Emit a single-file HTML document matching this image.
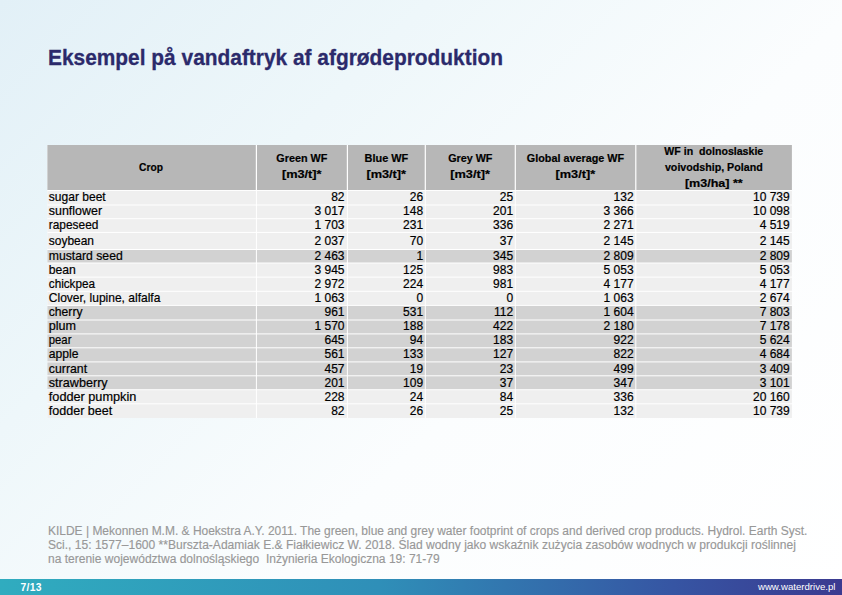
<!DOCTYPE html>
<html><head><meta charset="utf-8">
<style>
html,body{margin:0;padding:0;}
body{width:842px;height:595px;overflow:hidden;position:relative;font-family:"Liberation Sans",sans-serif;
background:linear-gradient(135deg,#e2f0f7 0%,#eef7fa 30%,#fbfdfe 60%,#ffffff 100%);}
#title{position:absolute;left:47.6px;top:44.2px;font-size:22.6px;transform:scaleX(0.9245);-webkit-text-stroke:0.3px #2b2a6b;font-weight:bold;color:#2b2a6b;white-space:nowrap;line-height:28px;transform-origin:0 0;}
#tbl text{font-family:"Liberation Sans",sans-serif;fill:#000;stroke:#000;stroke-width:0.2px;}
#foot{position:absolute;left:48px;top:524px;font-size:12px;line-height:14px;color:#989898;-webkit-text-stroke:0.15px #989898;white-space:nowrap;}
#foot div{transform-origin:0 0;height:14px;}
#bar{position:absolute;left:0;top:578.5px;width:842px;height:17px;background:linear-gradient(90deg,#30acbf 0%,#2f8fb8 45%,#3655a3 80%,#3b3a90 100%);}
#pg{position:absolute;left:20.5px;top:581.6px;font-size:10.3px;letter-spacing:0.3px;font-weight:bold;color:#fff;line-height:12px;}
#url{position:absolute;right:6.5px;top:581px;font-size:9.65px;color:#fff;line-height:12px;}
</style></head><body>
<div id="title">Eksempel på vandaftryk af afgrødeproduktion</div>
<svg id="tbl" width="842" height="595" viewBox="0 0 842 595" style="position:absolute;left:0;top:0">
<rect x="47.4" y="145.0" width="744.5" height="273.0" fill="#ffffff"/>
<rect x="47.40" y="145.0" width="208.40" height="45.00" fill="#b7b7b7"/>
<rect x="257.00" y="145.0" width="89.80" height="45.00" fill="#b7b7b7"/>
<rect x="348.00" y="145.0" width="76.70" height="45.00" fill="#b7b7b7"/>
<rect x="425.90" y="145.0" width="88.80" height="45.00" fill="#b7b7b7"/>
<rect x="515.90" y="145.0" width="119.30" height="45.00" fill="#b7b7b7"/>
<rect x="636.40" y="145.0" width="155.50" height="45.00" fill="#b7b7b7"/>
<rect x="47.40" y="190.90" width="208.50" height="13.60" fill="#efefef"/>
<rect x="256.90" y="190.90" width="90.00" height="13.60" fill="#efefef"/>
<rect x="347.90" y="190.90" width="76.90" height="13.60" fill="#efefef"/>
<rect x="425.80" y="190.90" width="89.00" height="13.60" fill="#efefef"/>
<rect x="515.80" y="190.90" width="119.50" height="13.60" fill="#efefef"/>
<rect x="636.30" y="190.90" width="155.60" height="13.60" fill="#efefef"/>
<rect x="47.40" y="205.50" width="208.50" height="12.70" fill="#efefef"/>
<rect x="256.90" y="205.50" width="90.00" height="12.70" fill="#efefef"/>
<rect x="347.90" y="205.50" width="76.90" height="12.70" fill="#efefef"/>
<rect x="425.80" y="205.50" width="89.00" height="12.70" fill="#efefef"/>
<rect x="515.80" y="205.50" width="119.50" height="12.70" fill="#efefef"/>
<rect x="636.30" y="205.50" width="155.60" height="12.70" fill="#efefef"/>
<rect x="47.40" y="219.20" width="208.50" height="12.70" fill="#efefef"/>
<rect x="256.90" y="219.20" width="90.00" height="12.70" fill="#efefef"/>
<rect x="347.90" y="219.20" width="76.90" height="12.70" fill="#efefef"/>
<rect x="425.80" y="219.20" width="89.00" height="12.70" fill="#efefef"/>
<rect x="515.80" y="219.20" width="119.50" height="12.70" fill="#efefef"/>
<rect x="636.30" y="219.20" width="155.60" height="12.70" fill="#efefef"/>
<rect x="47.40" y="232.90" width="208.50" height="16.10" fill="#efefef"/>
<rect x="256.90" y="232.90" width="90.00" height="16.10" fill="#efefef"/>
<rect x="347.90" y="232.90" width="76.90" height="16.10" fill="#efefef"/>
<rect x="425.80" y="232.90" width="89.00" height="16.10" fill="#efefef"/>
<rect x="515.80" y="232.90" width="119.50" height="16.10" fill="#efefef"/>
<rect x="636.30" y="232.90" width="155.60" height="16.10" fill="#efefef"/>
<rect x="47.40" y="250.00" width="208.50" height="12.50" fill="#d2d2d2"/>
<rect x="256.90" y="250.00" width="90.00" height="12.50" fill="#d2d2d2"/>
<rect x="347.90" y="250.00" width="76.90" height="12.50" fill="#d2d2d2"/>
<rect x="425.80" y="250.00" width="89.00" height="12.50" fill="#d2d2d2"/>
<rect x="515.80" y="250.00" width="119.50" height="12.50" fill="#d2d2d2"/>
<rect x="636.30" y="250.00" width="155.60" height="12.50" fill="#d2d2d2"/>
<rect x="47.40" y="263.50" width="208.50" height="13.10" fill="#efefef"/>
<rect x="256.90" y="263.50" width="90.00" height="13.10" fill="#efefef"/>
<rect x="347.90" y="263.50" width="76.90" height="13.10" fill="#efefef"/>
<rect x="425.80" y="263.50" width="89.00" height="13.10" fill="#efefef"/>
<rect x="515.80" y="263.50" width="119.50" height="13.10" fill="#efefef"/>
<rect x="636.30" y="263.50" width="155.60" height="13.10" fill="#efefef"/>
<rect x="47.40" y="277.60" width="208.50" height="13.20" fill="#efefef"/>
<rect x="256.90" y="277.60" width="90.00" height="13.20" fill="#efefef"/>
<rect x="347.90" y="277.60" width="76.90" height="13.20" fill="#efefef"/>
<rect x="425.80" y="277.60" width="89.00" height="13.20" fill="#efefef"/>
<rect x="515.80" y="277.60" width="119.50" height="13.20" fill="#efefef"/>
<rect x="636.30" y="277.60" width="155.60" height="13.20" fill="#efefef"/>
<rect x="47.40" y="291.80" width="208.50" height="13.10" fill="#efefef"/>
<rect x="256.90" y="291.80" width="90.00" height="13.10" fill="#efefef"/>
<rect x="347.90" y="291.80" width="76.90" height="13.10" fill="#efefef"/>
<rect x="425.80" y="291.80" width="89.00" height="13.10" fill="#efefef"/>
<rect x="515.80" y="291.80" width="119.50" height="13.10" fill="#efefef"/>
<rect x="636.30" y="291.80" width="155.60" height="13.10" fill="#efefef"/>
<rect x="47.40" y="305.90" width="208.50" height="13.60" fill="#d2d2d2"/>
<rect x="256.90" y="305.90" width="90.00" height="13.60" fill="#d2d2d2"/>
<rect x="347.90" y="305.90" width="76.90" height="13.60" fill="#d2d2d2"/>
<rect x="425.80" y="305.90" width="89.00" height="13.60" fill="#d2d2d2"/>
<rect x="515.80" y="305.90" width="119.50" height="13.60" fill="#d2d2d2"/>
<rect x="636.30" y="305.90" width="155.60" height="13.60" fill="#d2d2d2"/>
<rect x="47.40" y="320.50" width="208.50" height="12.90" fill="#d2d2d2"/>
<rect x="256.90" y="320.50" width="90.00" height="12.90" fill="#d2d2d2"/>
<rect x="347.90" y="320.50" width="76.90" height="12.90" fill="#d2d2d2"/>
<rect x="425.80" y="320.50" width="89.00" height="12.90" fill="#d2d2d2"/>
<rect x="515.80" y="320.50" width="119.50" height="12.90" fill="#d2d2d2"/>
<rect x="636.30" y="320.50" width="155.60" height="12.90" fill="#d2d2d2"/>
<rect x="47.40" y="334.40" width="208.50" height="12.90" fill="#d2d2d2"/>
<rect x="256.90" y="334.40" width="90.00" height="12.90" fill="#d2d2d2"/>
<rect x="347.90" y="334.40" width="76.90" height="12.90" fill="#d2d2d2"/>
<rect x="425.80" y="334.40" width="89.00" height="12.90" fill="#d2d2d2"/>
<rect x="515.80" y="334.40" width="119.50" height="12.90" fill="#d2d2d2"/>
<rect x="636.30" y="334.40" width="155.60" height="12.90" fill="#d2d2d2"/>
<rect x="47.40" y="348.30" width="208.50" height="13.10" fill="#d2d2d2"/>
<rect x="256.90" y="348.30" width="90.00" height="13.10" fill="#d2d2d2"/>
<rect x="347.90" y="348.30" width="76.90" height="13.10" fill="#d2d2d2"/>
<rect x="425.80" y="348.30" width="89.00" height="13.10" fill="#d2d2d2"/>
<rect x="515.80" y="348.30" width="119.50" height="13.10" fill="#d2d2d2"/>
<rect x="636.30" y="348.30" width="155.60" height="13.10" fill="#d2d2d2"/>
<rect x="47.40" y="362.40" width="208.50" height="12.90" fill="#d2d2d2"/>
<rect x="256.90" y="362.40" width="90.00" height="12.90" fill="#d2d2d2"/>
<rect x="347.90" y="362.40" width="76.90" height="12.90" fill="#d2d2d2"/>
<rect x="425.80" y="362.40" width="89.00" height="12.90" fill="#d2d2d2"/>
<rect x="515.80" y="362.40" width="119.50" height="12.90" fill="#d2d2d2"/>
<rect x="636.30" y="362.40" width="155.60" height="12.90" fill="#d2d2d2"/>
<rect x="47.40" y="376.30" width="208.50" height="12.90" fill="#d2d2d2"/>
<rect x="256.90" y="376.30" width="90.00" height="12.90" fill="#d2d2d2"/>
<rect x="347.90" y="376.30" width="76.90" height="12.90" fill="#d2d2d2"/>
<rect x="425.80" y="376.30" width="89.00" height="12.90" fill="#d2d2d2"/>
<rect x="515.80" y="376.30" width="119.50" height="12.90" fill="#d2d2d2"/>
<rect x="636.30" y="376.30" width="155.60" height="12.90" fill="#d2d2d2"/>
<rect x="47.40" y="390.20" width="208.50" height="13.10" fill="#efefef"/>
<rect x="256.90" y="390.20" width="90.00" height="13.10" fill="#efefef"/>
<rect x="347.90" y="390.20" width="76.90" height="13.10" fill="#efefef"/>
<rect x="425.80" y="390.20" width="89.00" height="13.10" fill="#efefef"/>
<rect x="515.80" y="390.20" width="119.50" height="13.10" fill="#efefef"/>
<rect x="636.30" y="390.20" width="155.60" height="13.10" fill="#efefef"/>
<rect x="47.40" y="404.30" width="208.50" height="13.70" fill="#efefef"/>
<rect x="256.90" y="404.30" width="90.00" height="13.70" fill="#efefef"/>
<rect x="347.90" y="404.30" width="76.90" height="13.70" fill="#efefef"/>
<rect x="425.80" y="404.30" width="89.00" height="13.70" fill="#efefef"/>
<rect x="515.80" y="404.30" width="119.50" height="13.70" fill="#efefef"/>
<rect x="636.30" y="404.30" width="155.60" height="13.70" fill="#efefef"/>
<text transform="translate(151.0,171.3) scale(0.8900,1)" text-anchor="middle" font-size="11.5" font-weight="bold" xml:space="preserve">Crop</text>
<text transform="translate(301.9,162.1) scale(0.9407,1)" text-anchor="middle" font-size="11.5" font-weight="bold" xml:space="preserve">Green WF</text>
<text transform="translate(301.7,178.1) scale(1.1101,1)" text-anchor="middle" font-size="11.5" font-weight="bold" xml:space="preserve">[m3/t]*</text>
<text transform="translate(386.4,162.1) scale(0.9503,1)" text-anchor="middle" font-size="11.5" font-weight="bold" xml:space="preserve">Blue WF</text>
<text transform="translate(386.2,178.1) scale(1.1101,1)" text-anchor="middle" font-size="11.5" font-weight="bold" xml:space="preserve">[m3/t]*</text>
<text transform="translate(470.3,162.1) scale(0.9379,1)" text-anchor="middle" font-size="11.5" font-weight="bold" xml:space="preserve">Grey WF</text>
<text transform="translate(470.1,178.1) scale(1.1101,1)" text-anchor="middle" font-size="11.5" font-weight="bold" xml:space="preserve">[m3/t]*</text>
<text transform="translate(575.5,162.1) scale(0.9407,1)" text-anchor="middle" font-size="11.5" font-weight="bold" xml:space="preserve">Global average WF</text>
<text transform="translate(575.3,178.1) scale(1.1101,1)" text-anchor="middle" font-size="11.5" font-weight="bold" xml:space="preserve">[m3/t]*</text>
<text transform="translate(713.8,154.7) scale(0.9225,1)" text-anchor="middle" font-size="11.5" font-weight="bold" xml:space="preserve">WF in  dolnoslaskie</text>
<text transform="translate(713.8,170.8) scale(0.9283,1)" text-anchor="middle" font-size="11.5" font-weight="bold" xml:space="preserve">voivodship, Poland</text>
<text transform="translate(713.8,186.5) scale(1.0910,1)" text-anchor="middle" font-size="11.5" font-weight="bold" xml:space="preserve">[m3/ha] **</text>
<text transform="translate(48.8,200.9) scale(1.0035,1.0)" font-size="12">sugar beet</text>
<text transform="translate(344.5,200.9) scale(1,1.0)" text-anchor="end" font-size="12">82</text>
<text transform="translate(423.1,200.9) scale(1,1.0)" text-anchor="end" font-size="12">26</text>
<text transform="translate(513.1,200.9) scale(1,1.0)" text-anchor="end" font-size="12">25</text>
<text transform="translate(633.6,200.9) scale(1,1.0)" text-anchor="end" font-size="12">132</text>
<text transform="translate(789.7,200.9) scale(1,1.0)" text-anchor="end" font-size="12">10 739</text>
<text transform="translate(48.8,215.4) scale(1.0365,1.0)" font-size="12">sunflower</text>
<text transform="translate(344.5,215.4) scale(1,1.0)" text-anchor="end" font-size="12">3 017</text>
<text transform="translate(423.1,215.4) scale(1,1.0)" text-anchor="end" font-size="12">148</text>
<text transform="translate(513.1,215.4) scale(1,1.0)" text-anchor="end" font-size="12">201</text>
<text transform="translate(633.6,215.4) scale(1,1.0)" text-anchor="end" font-size="12">3 366</text>
<text transform="translate(789.7,215.4) scale(1,1.0)" text-anchor="end" font-size="12">10 098</text>
<text transform="translate(48.8,229.0) scale(0.992,1.0)" font-size="12">rapeseed</text>
<text transform="translate(344.5,229.0) scale(1,1.0)" text-anchor="end" font-size="12">1 703</text>
<text transform="translate(423.1,229.0) scale(1,1.0)" text-anchor="end" font-size="12">231</text>
<text transform="translate(513.1,229.0) scale(1,1.0)" text-anchor="end" font-size="12">336</text>
<text transform="translate(633.6,229.0) scale(1,1.0)" text-anchor="end" font-size="12">2 271</text>
<text transform="translate(789.7,229.0) scale(1,1.0)" text-anchor="end" font-size="12">4 519</text>
<text transform="translate(48.8,244.6) scale(0.998,1.0)" font-size="12">soybean</text>
<text transform="translate(344.5,244.6) scale(1,1.0)" text-anchor="end" font-size="12">2 037</text>
<text transform="translate(423.1,244.6) scale(1,1.0)" text-anchor="end" font-size="12">70</text>
<text transform="translate(513.1,244.6) scale(1,1.0)" text-anchor="end" font-size="12">37</text>
<text transform="translate(633.6,244.6) scale(1,1.0)" text-anchor="end" font-size="12">2 145</text>
<text transform="translate(789.7,244.6) scale(1,1.0)" text-anchor="end" font-size="12">2 145</text>
<text transform="translate(48.8,259.9) scale(1.018,1.0)" font-size="12">mustard seed</text>
<text transform="translate(344.5,259.9) scale(1,1.0)" text-anchor="end" font-size="12">2 463</text>
<text transform="translate(423.1,259.9) scale(1,1.0)" text-anchor="end" font-size="12">1</text>
<text transform="translate(513.1,259.9) scale(1,1.0)" text-anchor="end" font-size="12">345</text>
<text transform="translate(633.6,259.9) scale(1,1.0)" text-anchor="end" font-size="12">2 809</text>
<text transform="translate(789.7,259.9) scale(1,1.0)" text-anchor="end" font-size="12">2 809</text>
<text transform="translate(48.8,273.8) scale(1.015,1.0)" font-size="12">bean</text>
<text transform="translate(344.5,273.8) scale(1,1.0)" text-anchor="end" font-size="12">3 945</text>
<text transform="translate(423.1,273.8) scale(1,1.0)" text-anchor="end" font-size="12">125</text>
<text transform="translate(513.1,273.8) scale(1,1.0)" text-anchor="end" font-size="12">983</text>
<text transform="translate(633.6,273.8) scale(1,1.0)" text-anchor="end" font-size="12">5 053</text>
<text transform="translate(789.7,273.8) scale(1,1.0)" text-anchor="end" font-size="12">5 053</text>
<text transform="translate(48.8,287.6) scale(0.975,1.0)" font-size="12">chickpea</text>
<text transform="translate(344.5,287.6) scale(1,1.0)" text-anchor="end" font-size="12">2 972</text>
<text transform="translate(423.1,287.6) scale(1,1.0)" text-anchor="end" font-size="12">224</text>
<text transform="translate(513.1,287.6) scale(1,1.0)" text-anchor="end" font-size="12">981</text>
<text transform="translate(633.6,287.6) scale(1,1.0)" text-anchor="end" font-size="12">4 177</text>
<text transform="translate(789.7,287.6) scale(1,1.0)" text-anchor="end" font-size="12">4 177</text>
<text transform="translate(48.8,302.1) scale(1.0027,1.0)" font-size="12">Clover, lupine, alfalfa</text>
<text transform="translate(344.5,302.1) scale(1,1.0)" text-anchor="end" font-size="12">1 063</text>
<text transform="translate(423.1,302.1) scale(1,1.0)" text-anchor="end" font-size="12">0</text>
<text transform="translate(513.1,302.1) scale(1,1.0)" text-anchor="end" font-size="12">0</text>
<text transform="translate(633.6,302.1) scale(1,1.0)" text-anchor="end" font-size="12">1 063</text>
<text transform="translate(789.7,302.1) scale(1,1.0)" text-anchor="end" font-size="12">2 674</text>
<text transform="translate(48.8,315.8) scale(1.012,1.0)" font-size="12">cherry</text>
<text transform="translate(344.5,315.8) scale(1,1.0)" text-anchor="end" font-size="12">961</text>
<text transform="translate(423.1,315.8) scale(1,1.0)" text-anchor="end" font-size="12">531</text>
<text transform="translate(513.1,315.8) scale(1,1.0)" text-anchor="end" font-size="12">112</text>
<text transform="translate(633.6,315.8) scale(1,1.0)" text-anchor="end" font-size="12">1 604</text>
<text transform="translate(789.7,315.8) scale(1,1.0)" text-anchor="end" font-size="12">7 803</text>
<text transform="translate(48.8,330.3) scale(1.05,1.0)" font-size="12">plum</text>
<text transform="translate(344.5,330.3) scale(1,1.0)" text-anchor="end" font-size="12">1 570</text>
<text transform="translate(423.1,330.3) scale(1,1.0)" text-anchor="end" font-size="12">188</text>
<text transform="translate(513.1,330.3) scale(1,1.0)" text-anchor="end" font-size="12">422</text>
<text transform="translate(633.6,330.3) scale(1,1.0)" text-anchor="end" font-size="12">2 180</text>
<text transform="translate(789.7,330.3) scale(1,1.0)" text-anchor="end" font-size="12">7 178</text>
<text transform="translate(48.8,344.1) scale(0.942,1.0)" font-size="12">pear</text>
<text transform="translate(344.5,344.1) scale(1,1.0)" text-anchor="end" font-size="12">645</text>
<text transform="translate(423.1,344.1) scale(1,1.0)" text-anchor="end" font-size="12">94</text>
<text transform="translate(513.1,344.1) scale(1,1.0)" text-anchor="end" font-size="12">183</text>
<text transform="translate(633.6,344.1) scale(1,1.0)" text-anchor="end" font-size="12">922</text>
<text transform="translate(789.7,344.1) scale(1,1.0)" text-anchor="end" font-size="12">5 624</text>
<text transform="translate(48.8,358.0) scale(1.014,1.0)" font-size="12">apple</text>
<text transform="translate(344.5,358.0) scale(1,1.0)" text-anchor="end" font-size="12">561</text>
<text transform="translate(423.1,358.0) scale(1,1.0)" text-anchor="end" font-size="12">133</text>
<text transform="translate(513.1,358.0) scale(1,1.0)" text-anchor="end" font-size="12">127</text>
<text transform="translate(633.6,358.0) scale(1,1.0)" text-anchor="end" font-size="12">822</text>
<text transform="translate(789.7,358.0) scale(1,1.0)" text-anchor="end" font-size="12">4 684</text>
<text transform="translate(48.8,372.6) scale(1.026,1.0)" font-size="12">currant</text>
<text transform="translate(344.5,372.6) scale(1,1.0)" text-anchor="end" font-size="12">457</text>
<text transform="translate(423.1,372.6) scale(1,1.0)" text-anchor="end" font-size="12">19</text>
<text transform="translate(513.1,372.6) scale(1,1.0)" text-anchor="end" font-size="12">23</text>
<text transform="translate(633.6,372.6) scale(1,1.0)" text-anchor="end" font-size="12">499</text>
<text transform="translate(789.7,372.6) scale(1,1.0)" text-anchor="end" font-size="12">3 409</text>
<text transform="translate(48.8,386.5) scale(1.052,1.0)" font-size="12">strawberry</text>
<text transform="translate(344.5,386.5) scale(1,1.0)" text-anchor="end" font-size="12">201</text>
<text transform="translate(423.1,386.5) scale(1,1.0)" text-anchor="end" font-size="12">109</text>
<text transform="translate(513.1,386.5) scale(1,1.0)" text-anchor="end" font-size="12">37</text>
<text transform="translate(633.6,386.5) scale(1,1.0)" text-anchor="end" font-size="12">347</text>
<text transform="translate(789.7,386.5) scale(1,1.0)" text-anchor="end" font-size="12">3 101</text>
<text transform="translate(48.8,400.6) scale(1.0585,1.0)" font-size="12">fodder pumpkin</text>
<text transform="translate(344.5,400.6) scale(1,1.0)" text-anchor="end" font-size="12">228</text>
<text transform="translate(423.1,400.6) scale(1,1.0)" text-anchor="end" font-size="12">24</text>
<text transform="translate(513.1,400.6) scale(1,1.0)" text-anchor="end" font-size="12">84</text>
<text transform="translate(633.6,400.6) scale(1,1.0)" text-anchor="end" font-size="12">336</text>
<text transform="translate(789.7,400.6) scale(1,1.0)" text-anchor="end" font-size="12">20 160</text>
<text transform="translate(48.8,414.9) scale(1.0475,1.0)" font-size="12">fodder beet</text>
<text transform="translate(344.5,414.9) scale(1,1.0)" text-anchor="end" font-size="12">82</text>
<text transform="translate(423.1,414.9) scale(1,1.0)" text-anchor="end" font-size="12">26</text>
<text transform="translate(513.1,414.9) scale(1,1.0)" text-anchor="end" font-size="12">25</text>
<text transform="translate(633.6,414.9) scale(1,1.0)" text-anchor="end" font-size="12">132</text>
<text transform="translate(789.7,414.9) scale(1,1.0)" text-anchor="end" font-size="12">10 739</text>
</svg>
<div id="foot"><div style="transform:scaleX(0.998)">KILDE | Mekonnen M.M. &amp; Hoekstra A.Y. 2011. The green, blue and grey water footprint of crops and derived crop products. Hydrol. Earth Syst.</div><div style="transform:scaleX(1.0047)">Sci., 15: 1577–1600 **Burszta-Adamiak E.&amp; Fiałkiewicz W. 2018. Ślad wodny jako wskaźnik zużycia zasobów wodnych w produkcji roślinnej</div><div style="transform:scaleX(1.002)">na terenie województwa dolnośląskiego &nbsp;Inżynieria Ekologiczna 19: 71-79</div></div>
<div id="bar"></div>
<div id="pg">7/13</div>
<div id="url">www.waterdrive.pl</div>
</body></html>
